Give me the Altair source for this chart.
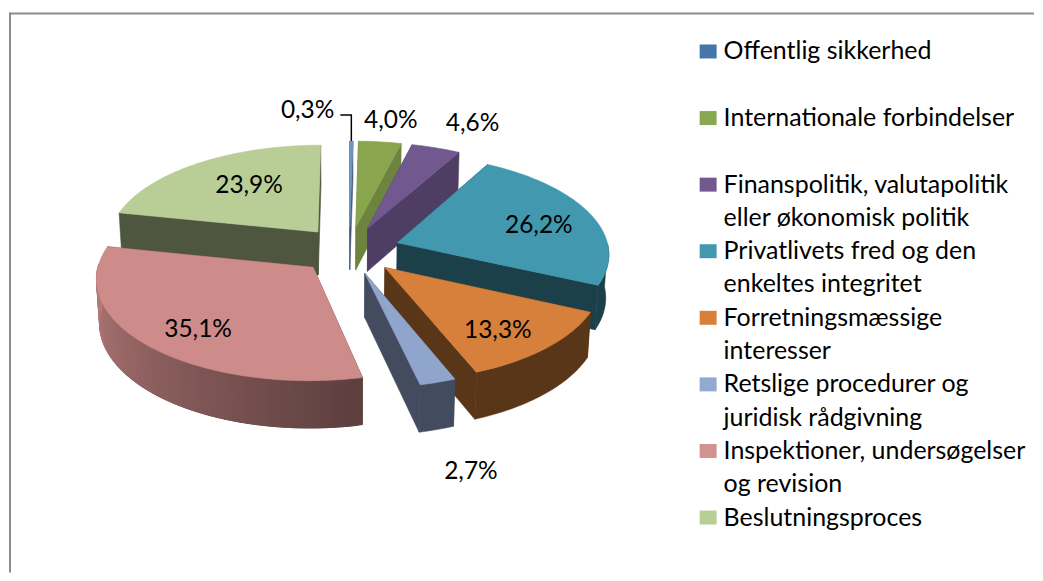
import math
import altair as alt

# --- chart values -------------------------------------------------------
values = [0.3, 4.0, 4.6, 26.2, 13.3, 2.7, 35.1, 23.9]
value_labels = ["0,3%", "4,0%", "4,6%", "26,2%", "13,3%", "2,7%", "35,1%", "23,9%"]
legend_lines = [
    ["Offentlig sikkerhed"],
    ["Internationale forbindelser"],
    ["Finanspolitik, valutapolitik", "eller økonomisk politik"],
    ["Privatlivets fred og den", "enkeltes integritet"],
    ["Forretningsmæssige", "interesser"],
    ["Retslige procedurer og", "juridisk rådgivning"],
    ["Inspektioner, undersøgelser", "og revision"],
    ["Beslutningsproces"],
]
legend_gap_after = [1, 1, 0, 0, 0, 0, 0, 0]
legend_colors = ["#4676a9", "#8aa84f", "#71588f", "#4198af", "#d8803a", "#93a9cf", "#d19392", "#b9cd96"]
top_colors = ["#6f97c6", "#89a54e", "#71588f", "#4198af", "#d6803b", "#8fa5cc", "#cd8b8a", "#b9cd96"]
radial_shade = [0.6, 0.8, 0.7, 0.42, 0.42, 0.46, 0.46, 0.42]
draw_order = [1, 0, 2, 7, 3, 4, 6, 5]
label_radius = [1.62, 1.52, 1.60, 0.95, 1.0, 1.58, 1.0, 0.86]
label_turn = [0, 1, 3, 3, 3, -1, -3, 3]
label_drop = [0, 0, 0, 0, 0, 1, 0, 0]

# --- 3D view of the pie --------------------------------------------------
CX, CY, SCALE = 341.0, 242.0, 212.0  # plot-area pixels of the pie centre, radius
ELEV = math.radians(27.8)
DIST = 9.0
EXPLODE = 0.24
DEPTH = 0.235


def project(X, Y, Z):
    yv = Y * math.sin(ELEV) + Z * math.cos(ELEV)
    zv = -Y * math.cos(ELEV) + Z * math.sin(ELEV)
    f = DIST / (DIST - zv)
    return [X * f, -yv * f]  # unit-radius screen coordinates, y down


def hex2rgb(c):
    return [int(c[i:i + 2], 16) for i in (1, 3, 5)]


def shade(c, k):
    return "#%02x%02x%02x" % tuple(max(0, min(255, round(v * k))) for v in hex2rgb(c))


def feature(points, color):
    return {
        "type": "Feature",
        "properties": {"color": color},
        "geometry": {"type": "Polygon", "coordinates": [points + [points[0]]]},
    }


def wall_shade(deg):
    if deg < 170:
        return 0.46
    return min(0.88, 0.46 + (deg - 170) / 100 * 0.42)


def wall(points, color):
    upper = [project(px, py, 0) for px, py in points]
    lower = [project(px, py, -DEPTH) for px, py in reversed(points)]
    return feature(upper + lower, color)


total = sum(values)
edges = [0.0]
for v in values:
    edges.append(edges[-1] + v / total * 360.0)

features = []
label_rows = []
for i in draw_order:
    a0, a1 = edges[i], edges[i + 1]
    mid = math.radians((a0 + a1) / 2)
    ox, oy = EXPLODE * math.sin(mid), EXPLODE * math.cos(mid)
    n = max(2, int(a1 - a0))
    arc = [a0 + (a1 - a0) * j / n for j in range(n + 1)]
    rim = [(ox + math.sin(math.radians(d)), oy + math.cos(math.radians(d))) for d in arc]
    dark = shade(top_colors[i], radial_shade[i])
    for p in (rim[0], rim[-1]):
        features.append(wall([(ox, oy), p], dark))
    front = [j for j, d in enumerate(arc) if 90 <= d <= 272]
    if i == 6:
        # shaded wall: short overlapping strips so no seams show
        for j in front[:-1]:
            last = min(j + 3, front[-1])
            d = (arc[j] + arc[j + 1]) / 2
            features.append(wall(rim[j:last + 1], shade(top_colors[i], wall_shade(d))))
    elif len(front) > 1:
        features.append(wall([rim[j] for j in front], dark))
    features.append(feature([project(ox, oy, 0)] + [project(px, py, 0) for px, py in rim], top_colors[i]))

for i in range(len(values)):
    mid = math.radians((edges[i] + edges[i + 1]) / 2 + label_turn[i])
    r = label_radius[i]
    lon, lat = project(r * math.sin(mid), r * math.cos(mid), -DEPTH * label_drop[i])
    label_rows.append({"lon": lon, "lat": lat, "text": value_labels[i]})

# leader line of the smallest slice, hanging from its rim
m0 = math.radians((edges[0] + edges[1]) / 2)
lead = project((1 + EXPLODE) * math.sin(m0), (1 + EXPLODE) * math.cos(m0), 0)
ux = 1 / SCALE
leader = {
    "type": "Feature",
    "properties": {},
    "geometry": {"type": "LineString", "coordinates": [
        lead, [lead[0], lead[1] - 26 * ux], [lead[0] - 11 * ux, lead[1] - 26 * ux]]},
}
label_rows[0]["lon"] = lead[0] - 17 * ux
label_rows[0]["lat"] = lead[1] - 30 * ux

legend_rows, legend_text = [], []
line = 0
for i, lines in enumerate(legend_lines):
    legend_rows.append({"line": line, "color": legend_colors[i]})
    for t in lines:
        legend_text.append({"line": line, "text": t})
        line += 1
    line += legend_gap_after[i]

# --- chart ---------------------------------------------------------------
W, H = 1027, 565
proj = dict(type="identity", scale=SCALE, translate=[CX, CY])
FONT = "Lato"
y_scale = alt.Scale(domain=[0, 14], range=[43, 510])

pie = alt.Chart(alt.Data(values={"type": "FeatureCollection", "features": features},
                         format=alt.DataFormat(property="features"))).mark_geoshape(
    filled=True, strokeWidth=0.6, opacity=1
).encode(
    fill=alt.Fill("properties.color:N", scale=None),
    stroke=alt.Stroke("properties.color:N", scale=None),
).project(**proj)

lead_layer = alt.Chart(alt.Data(values={"type": "FeatureCollection", "features": [leader]},
                                format=alt.DataFormat(property="features"))).mark_geoshape(
    filled=False, stroke="#000000", strokeWidth=1.5
).project(**proj)

labels = alt.Chart(alt.Data(values=label_rows[1:])).mark_text(
    font=FONT, fontSize=24.5, color="#000000"
).encode(longitude="lon:Q", latitude="lat:Q", text="text:N").project(**proj)

label0 = alt.Chart(alt.Data(values=label_rows[:1])).mark_text(
    font=FONT, fontSize=24.5, color="#000000", align="right"
).encode(longitude="lon:Q", latitude="lat:Q", text="text:N").project(**proj)

swatches = alt.Chart(alt.Data(values=legend_rows)).mark_rule(strokeWidth=14).encode(
    x=alt.value(692), x2=alt.value(709),
    y=alt.Y("line:Q", scale=y_scale, axis=None),
    color=alt.Color("color:N", scale=None),
)

legend = alt.Chart(alt.Data(values=legend_text)).mark_text(
    font=FONT, fontSize=25, align="left", baseline="middle", color="#000000"
).encode(
    x=alt.value(716),
    y=alt.Y("line:Q", scale=y_scale, axis=None),
    text="text:N",
)

one = alt.Data(values=[{"k": 1}])
border_top = alt.Chart(one).mark_rule(color="#8c8c8c", strokeWidth=2).encode(
    x=alt.value(0), x2=alt.value(W), y=alt.value(5))
border_left = alt.Chart(one).mark_rule(color="#8c8c8c", strokeWidth=2).encode(
    x=alt.value(1), y=alt.value(4), y2=alt.value(H))

chart = alt.layer(border_top, border_left, pie, lead_layer, labels, label0, swatches, legend).properties(
    width=W, height=H, padding=0, background="#ffffff"
).configure_view(stroke=None)

chart.save("out.html", embed_options={"renderer": "svg", "actions": False})
